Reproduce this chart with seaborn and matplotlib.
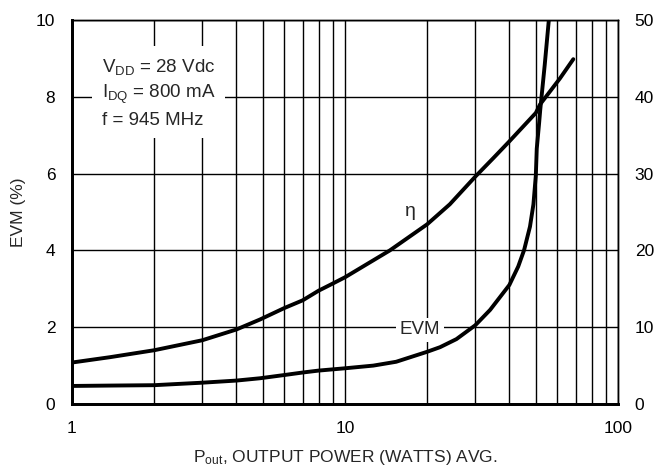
import matplotlib
matplotlib.use("Agg")
import matplotlib.pyplot as plt
import seaborn as sns
import pandas as pd
from matplotlib.ticker import FixedLocator, NullFormatter, LogLocator

# ---- data ----
evm_pout = [1.0, 1.38, 2.0, 3.0, 4.0, 4.88, 6.0, 7.0, 8.0, 10.0, 12.7, 15.4, 20.0, 22.3,
            25.6, 30.0, 34.0, 40.0, 43.1, 45.3, 47.6, 49.0, 50.0, 50.4, 51.4, 51.9, 53.9, 55.8]
evm_pct = [0.47, 0.48, 0.49, 0.555, 0.61, 0.67, 0.755, 0.82, 0.87, 0.93, 1.0, 1.10, 1.36, 1.48,
           1.69, 2.05, 2.45, 3.10, 3.58, 4.01, 4.62, 5.2, 5.95, 6.65, 7.31, 7.66, 8.83, 10.0]

eta_pout = [1.0, 1.38, 2.0, 3.0, 4.0, 4.88, 6.0, 7.0, 8.0, 8.81, 10.0, 14.6, 20.0, 24.2,
            30.0, 34.9, 40.0, 50.0, 51.8, 61.3, 68.6]
eta_pct = [5.4, 6.1, 7.0, 8.3, 9.7, 11.0, 12.5, 13.5, 14.75, 15.5, 16.5, 20.0, 23.4, 26.0,
           29.6, 32.0, 34.2, 37.9, 39.0, 42.4, 44.9]

x_ticks = [1, 10, 100]
x_ticklabels = ["1", "10", "100"]
left_ticks = [0, 2, 4, 6, 8, 10]
right_ticks = [0, 10, 20, 30, 40, 50]

sns.set_style("white")
FONT = ["Liberation Sans Narrow", "Liberation Sans", "DejaVu Sans"]
plt.rcParams["font.family"] = FONT
plt.rcParams["mathtext.fontset"] = "custom"
plt.rcParams["mathtext.rm"] = "Liberation Sans"
plt.rcParams["mathtext.it"] = "Liberation Sans"

fig = plt.figure(figsize=(6.57, 4.71), dpi=100)
ax = fig.add_axes([72 / 657, 1 - 404 / 471, (618 - 72) / 657, (404 - 20) / 471])

df_evm = pd.DataFrame({"Pout": evm_pout, "EVM": evm_pct})
df_eta = pd.DataFrame({"Pout": eta_pout, "eta": eta_pct})

line_kw = dict(color="black", lw=2.8, zorder=5, solid_joinstyle="round", solid_capstyle="round")
sns.lineplot(data=df_evm, x="Pout", y="EVM", ax=ax, **line_kw)
ax.set_xscale("log")
ax.set_xlim(1, 100)
ax.set_ylim(0, 10)

ax2 = ax.twinx()
sns.lineplot(data=df_eta, x="Pout", y="eta", ax=ax2, **line_kw)
ax2.set_ylim(0, 50)
ax2.set_xlim(1, 100)
ax2.set_ylabel("")

# grid
ax.xaxis.set_major_locator(FixedLocator(x_ticks))
ax.xaxis.set_minor_locator(LogLocator(base=10, subs=range(2, 10)))
ax.xaxis.set_minor_formatter(NullFormatter())
ax.set_xticklabels(x_ticklabels)
ax.set_yticks(left_ticks)
ax2.set_yticks(right_ticks)
ax.grid(True, which="both", axis="x", color="black", lw=1.0)
ax.grid(True, which="major", axis="y", color="black", lw=1.0)
ax.set_axisbelow(True)

for a in (ax, ax2):
    a.tick_params(which="both", length=0, labelsize=12.5, colors="black")
ax.tick_params(axis="x", pad=12)
ax.tick_params(axis="y", pad=12)
ax2.tick_params(axis="y", pad=12)

for a in (ax, ax2):
    for s in ("top", "right"):
        a.spines[s].set_linewidth(1.0)
        a.spines[s].set_color("black")
    for s in ("left", "bottom"):
        a.spines[s].set_linewidth(2.0)
        a.spines[s].set_color("black")

ax.set_xlabel(r"P$_{\mathrm{out}}$, OUTPUT POWER (WATTS) AVG.", fontsize=12.5, labelpad=9)
ax.set_ylabel("EVM (%)", fontsize=12.5, labelpad=7)

ax.text(1.29, 8.1, "V$_{\\mathrm{DD}}$ = 28 Vdc\nI$_{\\mathrm{DQ}}$ = 800 mA\nf = 945 MHz",
        fontsize=13.5, va="center", ha="left", linespacing=1.4, zorder=4,
        bbox=dict(facecolor="white", edgecolor="none", pad=7))
ax.text(18.8, 1.93, "EVM", fontsize=13.5, ha="center", va="center", zorder=4,
        bbox=dict(facecolor="white", edgecolor="none", pad=2.5))
ax2.text(17.4, 25.0, "η", fontsize=14, ha="center", va="center", zorder=4,
         bbox=dict(facecolor="white", edgecolor="none", pad=1))

fig.savefig("out.png", dpi=100)
